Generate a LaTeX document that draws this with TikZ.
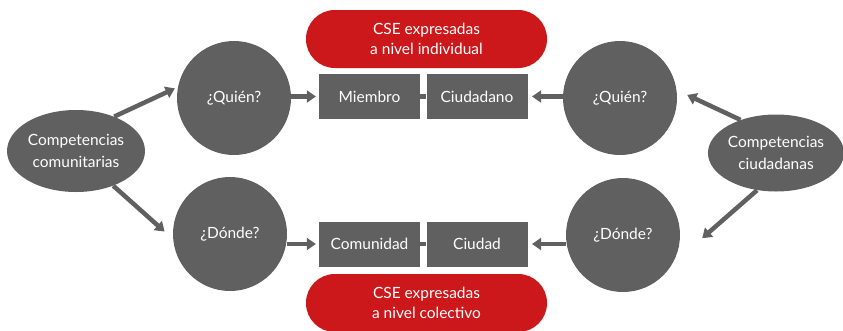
\documentclass[tikz,border=0pt]{standalone}
\usepackage{fontspec}
\setmainfont{Lato}
\usetikzlibrary{positioning}
\usetikzlibrary{calc}
\usetikzlibrary{shapes.geometric}
\usetikzlibrary{arrows.meta}
\definecolor{mygray}{HTML}{606060}
\definecolor{myred}{HTML}{CC181B}

\begin{document}
\begin{tikzpicture}[
  txt/.style={text=white, align=center, font=\fontsize{11}{15.5}\selectfont},
  blob/.style={ellipse, fill=mygray, inner sep=0pt, txt},
  ques/.style={circle, fill=mygray, minimum size=2.85cm, inner sep=0pt, txt},
  level/.style={rectangle, fill=mygray, minimum width=2.525cm, minimum height=1.125cm, inner sep=0pt, txt},
  pill/.style={rectangle, rounded corners=0.72cm, fill=myred, minimum width=6.025cm, minimum height=1.45cm, inner sep=0pt, txt, font=\fontsize{11}{14.5}\selectfont},
  conn/.style={mygray, line width=3.2pt, -{Triangle[length=6.5pt,width=8.5pt]}}
]
  \useasboundingbox (0,0) rectangle (21.075,-8.25);

  % outer competences
  \node[blob, minimum width=3.45cm, minimum height=2.05cm] (ccom) at (1.9,-3.775) {Competencias\\comunitarias};
  \node[blob, minimum width=3.325cm, minimum height=1.925cm] (cciu) at (19.4,-3.825) {Competencias\\ciudadanas};

  % questions
  \node[ques] (quien1) at (5.85,-2.45) {¿Quién?};
  \node[ques] (donde1) at (5.75,-5.85) {¿Dónde?};
  \node[ques] (quien2) at (15.5,-2.45) {¿Quién?};
  \node[ques] (donde2) at (15.575,-5.875) {¿Dónde?};

  % levels
  \node[level] (miembro) at (9.2375,-2.4125) {Miembro};
  \node[level] (ciudadano) at (11.925,-2.4125) {Ciudadano};
  \node[level] (comunidad) at (9.2375,-6.1) {Comunidad};
  \node[level] (ciudadL) at (11.925,-6.1) {Ciudad};

  \node[pill] (indiv) at (10.6625,-0.975) {CSE expresadas\\a nivel individual};
  \node[pill] (colect) at (10.6625,-7.575) {CSE expresadas\\a nivel colectivo};

  \draw[conn, shorten >=0.08cm] (ccom.42) -- (quien1.169);
  \draw[conn, shorten >=0.28cm] (ccom.317) -- (donde1.185);
  \draw[conn, shorten >=0.29cm] (cciu.137) -- (quien2.8);
  \draw[conn, shorten >=1cm] (cciu.243) -- (donde2.329);

  \draw[conn, shorten >=2pt] (quien1.east |- miembro) -- (miembro.west);
  \draw[conn, shorten >=3pt] (quien2.west |- ciudadano) -- (ciudadano.east);
  \draw[conn, shorten >=2pt] (donde1.east |- comunidad) -- (comunidad.west);
  \draw[conn, shorten >=3pt] (donde2.west |- ciudadL) -- (ciudadL.east);

  \draw[mygray, line width=3.2pt] (miembro.east) -- (ciudadano.west);
  \draw[mygray, line width=3.2pt] (comunidad.east) -- (ciudadL.west);
\end{tikzpicture}
\end{document}
